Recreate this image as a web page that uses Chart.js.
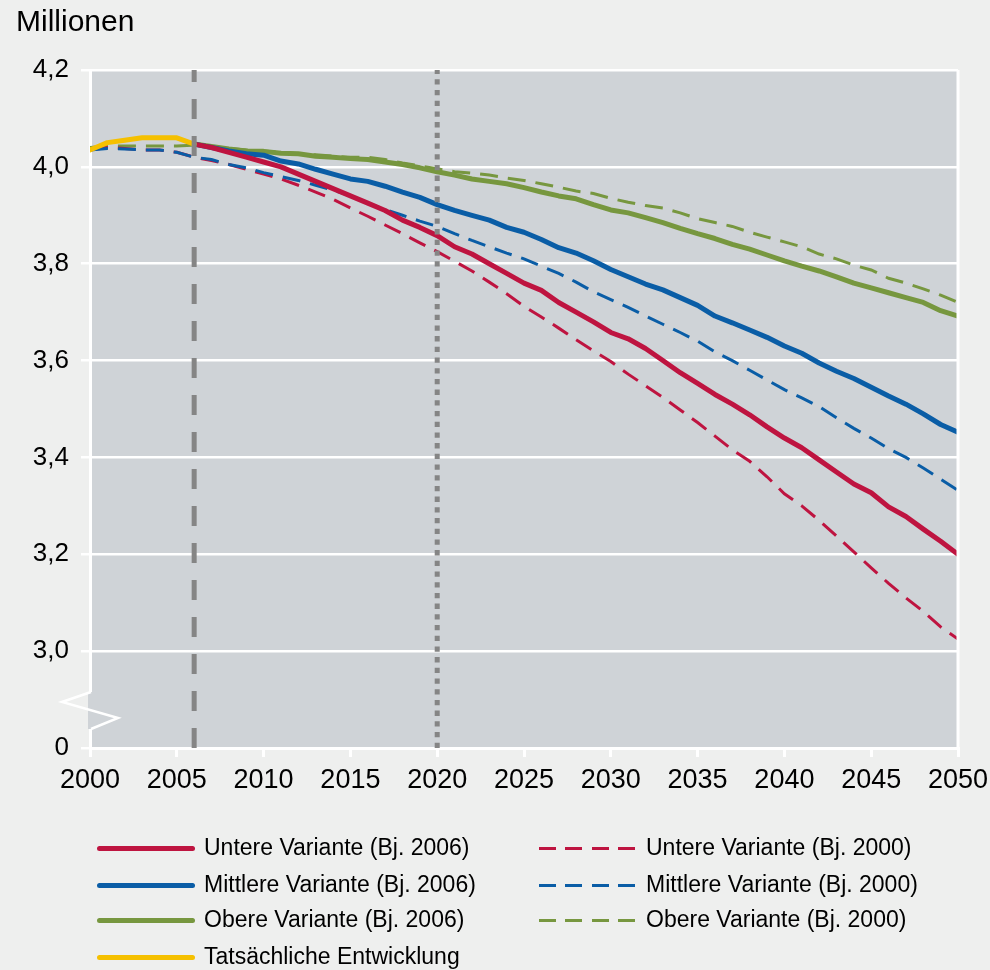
<!DOCTYPE html>
<html><head><meta charset="utf-8">
<script src="https://cdn.jsdelivr.net/npm/chart.js@4.4.1/dist/chart.umd.min.js"></script>
<style>
html,body{margin:0;padding:0;background:#eeefee;}
#wrap{position:relative;width:990px;height:970px;overflow:hidden;}
#c{position:absolute;left:0;top:0;}
#title{position:absolute;left:16px;top:4px;font:30px "Liberation Sans",Arial,sans-serif;color:#000;}
.lg{position:absolute;font:23px "Liberation Sans",Arial,sans-serif;color:#000;line-height:26px;white-space:nowrap;}
.ln{position:absolute;height:5px;}
</style></head>
<body><div id="wrap"><canvas id="c" width="990" height="970"></canvas><div id="title">Millionen</div><div id="legend"></div></div>
<script>
const years = [2000,2001,2002,2003,2004,2005,2006,2007,2008,2009,2010,2011,2012,2013,2014,2015,2016,2017,2018,2019,2020,2021,2022,2023,2024,2025,2026,2027,2028,2029,2030,2031,2032,2033,2034,2035,2036,2037,2038,2039,2040,2041,2042,2043,2044,2045,2046,2047,2048,2049,2050];
const xTicks = [2000,2005,2010,2015,2020,2025,2030,2035,2040,2045,2050];
const yTicks = [2.8,3.0,3.2,3.4,3.6,3.8,4.0,4.2];
const yTickLabels = ['0','3,0','3,2','3,4','3,6','3,8','4,0','4,2'];
// actual development 2000-2006
const actual = [4.035,4.05,4.055,4.06,4.06,4.06,4.047];
// projections base year 2006 (2006-2050)
const untere2006 = [4.047,4.04,4.03,4.02,4.01,4.0,3.985,3.97,3.955,3.94,3.925,3.91,3.89,3.875,3.858,3.835,3.82,3.8,3.78,3.76,3.745,3.72,3.7,3.68,3.658,3.645,3.625,3.6,3.575,3.553,3.53,3.51,3.488,3.463,3.44,3.42,3.395,3.37,3.345,3.327,3.298,3.278,3.252,3.227,3.2];
const mittlere2006 = [4.047,4.04,4.033,4.027,4.024,4.012,4.006,3.995,3.985,3.975,3.97,3.96,3.948,3.937,3.922,3.91,3.9,3.89,3.875,3.865,3.85,3.833,3.822,3.806,3.788,3.773,3.758,3.746,3.73,3.714,3.692,3.678,3.663,3.648,3.63,3.615,3.595,3.578,3.563,3.545,3.527,3.51,3.49,3.468,3.452];
const obere2006 = [4.047,4.042,4.037,4.033,4.032,4.028,4.027,4.022,4.02,4.017,4.015,4.01,4.005,3.998,3.99,3.983,3.975,3.97,3.965,3.957,3.948,3.94,3.934,3.922,3.911,3.905,3.895,3.885,3.873,3.862,3.852,3.84,3.83,3.818,3.806,3.795,3.785,3.773,3.76,3.75,3.74,3.73,3.72,3.703,3.692];
// projections base year 2000 (2000-2050)
const untere2000 = [4.035,4.04,4.038,4.035,4.035,4.03,4.02,4.013,4.005,3.995,3.985,3.975,3.962,3.948,3.933,3.915,3.898,3.88,3.862,3.843,3.825,3.805,3.785,3.762,3.738,3.712,3.69,3.667,3.643,3.62,3.598,3.572,3.548,3.524,3.498,3.472,3.444,3.416,3.392,3.36,3.325,3.3,3.27,3.238,3.205,3.172,3.14,3.11,3.082,3.05,3.025];
const mittlere2000 = [4.035,4.038,4.037,4.035,4.035,4.03,4.02,4.015,4.005,3.998,3.988,3.98,3.972,3.962,3.952,3.94,3.925,3.912,3.9,3.888,3.877,3.862,3.848,3.835,3.822,3.81,3.795,3.78,3.762,3.742,3.726,3.71,3.692,3.675,3.658,3.64,3.618,3.6,3.58,3.56,3.54,3.523,3.505,3.482,3.46,3.44,3.418,3.4,3.378,3.355,3.332];
const obere2000 = [4.04,4.043,4.043,4.043,4.043,4.043,4.045,4.042,4.038,4.035,4.033,4.03,4.027,4.025,4.022,4.02,4.02,4.015,4.008,4.002,3.996,3.99,3.987,3.983,3.977,3.972,3.965,3.958,3.95,3.945,3.935,3.927,3.92,3.915,3.905,3.893,3.885,3.877,3.865,3.855,3.845,3.835,3.82,3.81,3.797,3.787,3.77,3.76,3.748,3.735,3.72];
const markerYears = [2006, 2020];
const labels = ['Untere Variante (Bj. 2006)','Mittlere Variante (Bj. 2006)','Obere Variante (Bj. 2006)','Tatsächliche Entwicklung','Untere Variante (Bj. 2000)','Mittlere Variante (Bj. 2000)','Obere Variante (Bj. 2000)'];

const RED='#be1440', BLUE='#0a5da6', GREEN='#77973f', YELLOW='#f5c000', GRAY='#858585';
const PLOTBG='#cfd3d7';
const yMin=2.8, yMax=4.2;

function pts(startYear, arr){ const s=years.indexOf(startYear); return arr.map((v,i)=>({x:years[s+i], y:v})); }

const solid = (label,data,color,order)=>({label,data,borderColor:color,borderWidth:5,pointRadius:0,tension:0,fill:false,order,borderCapStyle:'round',borderJoinStyle:'round'});
const dashed = (label,data,color,order)=>({label,data,borderColor:color,borderWidth:3,pointRadius:0,tension:0,fill:false,order,borderDash:[18,10]});

const datasets = [
  {label:'m2006',data:[{x:markerYears[0],y:yMin},{x:markerYears[0],y:yMax}],borderColor:GRAY,borderWidth:5,borderDash:[20,17],pointRadius:0,order:0},
  {label:'m2020',data:[{x:markerYears[1],y:yMin},{x:markerYears[1],y:yMax}],borderColor:GRAY,borderWidth:5,borderDash:[5.3,5.4],pointRadius:0,order:0},
  solid(labels[3],pts(2000,actual),YELLOW,1),
  solid(labels[0],pts(2006,untere2006),RED,2),
  solid(labels[1],pts(2006,mittlere2006),BLUE,3),
  solid(labels[2],pts(2006,obere2006),GREEN,4),
  dashed(labels[5],pts(2000,mittlere2000),BLUE,5),
  dashed(labels[4],pts(2000,untere2000),RED,6),
  dashed(labels[6],pts(2000,obere2000),GREEN,7)
];

const decor = {
  id:'decor',
  beforeDraw(chart){
    const {ctx,chartArea:a}=chart;
    ctx.save(); ctx.fillStyle=PLOTBG; ctx.fillRect(a.left,a.top,a.right-a.left,a.bottom-a.top); ctx.restore();
  },
  afterDraw(chart){
    const {ctx,chartArea:a}=chart;
    ctx.save();
    ctx.strokeStyle='#ffffff'; ctx.lineWidth=3;
    ctx.beginPath(); ctx.moveTo(a.right,a.top); ctx.lineTo(a.right,a.bottom+1); ctx.stroke();
    // axis break
    const b=a.bottom;
    ctx.fillStyle=PLOTBG; ctx.fillRect(a.left-2,b-56,10,37);
    ctx.lineWidth=2.5; ctx.lineJoin='miter';
    ctx.beginPath();
    ctx.moveTo(a.left+1,b-56); ctx.lineTo(a.left-28,b-46); ctx.lineTo(a.left+28,b-30); ctx.lineTo(a.left+1,b-19);
    ctx.stroke();
    ctx.restore();
  }
};

new Chart(document.getElementById('c'),{
  type:'line',
  data:{datasets},
  options:{
    responsive:false,animation:false,
    layout:{padding:{top:70,right:32,bottom:172,left:0}},
    plugins:{legend:{display:false},tooltip:{enabled:false},title:{display:false}},
    scales:{
      x:{type:'linear',min:2000,max:2050,
        afterBuildTicks(s){ s.ticks = xTicks.map(v=>({value:v})); },
        afterFit(s){ s.height=50; s.paddingLeft=0; s.paddingRight=0; },
        ticks:{color:'#000',font:{family:'"Liberation Sans", Arial, sans-serif',size:27},padding:7,maxRotation:0,autoSkip:false,callback:v=>String(v)},
        grid:{drawOnChartArea:false,drawTicks:true,tickLength:9,color:'#ffffff',lineWidth:3},
        border:{display:true,color:'#ffffff',width:3}
      },
      y:{type:'linear',min:yMin,max:yMax,
        afterBuildTicks(s){ s.ticks = yTicks.map(v=>({value:v})); },
        afterFit(s){ s.width=90; s.paddingTop=0; s.paddingBottom=0; },
        ticks:{color:'#000',font:{family:'"Liberation Sans", Arial, sans-serif',size:26},padding:12,autoSkip:false,
          callback:(v)=>{ const i=yTicks.findIndex(t=>Math.abs(t-v)<1e-6); return i>=0?yTickLabels[i]:''; }},
        grid:{drawOnChartArea:true,drawTicks:true,tickLength:9,color:'#ffffff',lineWidth:2.5},
        border:{display:true,color:'#ffffff',width:3}
      }
    }
  },
  plugins:[decor]
});

// legend (HTML) built from dataset definitions
const legendItems = [
  {t:labels[0],c:RED,d:false,col:0,row:0},
  {t:labels[1],c:BLUE,d:false,col:0,row:1},
  {t:labels[2],c:GREEN,d:false,col:0,row:2},
  {t:labels[3],c:YELLOW,d:false,col:0,row:3},
  {t:labels[4],c:RED,d:true,col:1,row:0},
  {t:labels[5],c:BLUE,d:true,col:1,row:1},
  {t:labels[6],c:GREEN,d:true,col:1,row:2}
];
const rowY=[848,885,920,957];
const colLine=[[97,98],[539,96]];
const colText=[204,646];
const lg=document.getElementById('legend');
legendItems.forEach(it=>{
  const l=document.createElement('div'); l.className='ln';
  l.style.left=colLine[it.col][0]+'px'; l.style.width=colLine[it.col][1]+'px'; l.style.top=(rowY[it.row]-2.5)+'px';
  if(it.d){ l.style.height='3px'; l.style.top=(rowY[it.row]-1.5)+'px'; l.style.background=`repeating-linear-gradient(to right, ${it.c} 0 17px, transparent 17px 26.5px)`; }
  else { l.style.background=it.c; l.style.borderRadius='3px'; }
  lg.appendChild(l);
  const t=document.createElement('div'); t.className='lg'; t.textContent=it.t;
  t.style.left=colText[it.col]+'px'; t.style.top=(rowY[it.row]-14)+'px';
  lg.appendChild(t);
});
</script></body></html>
